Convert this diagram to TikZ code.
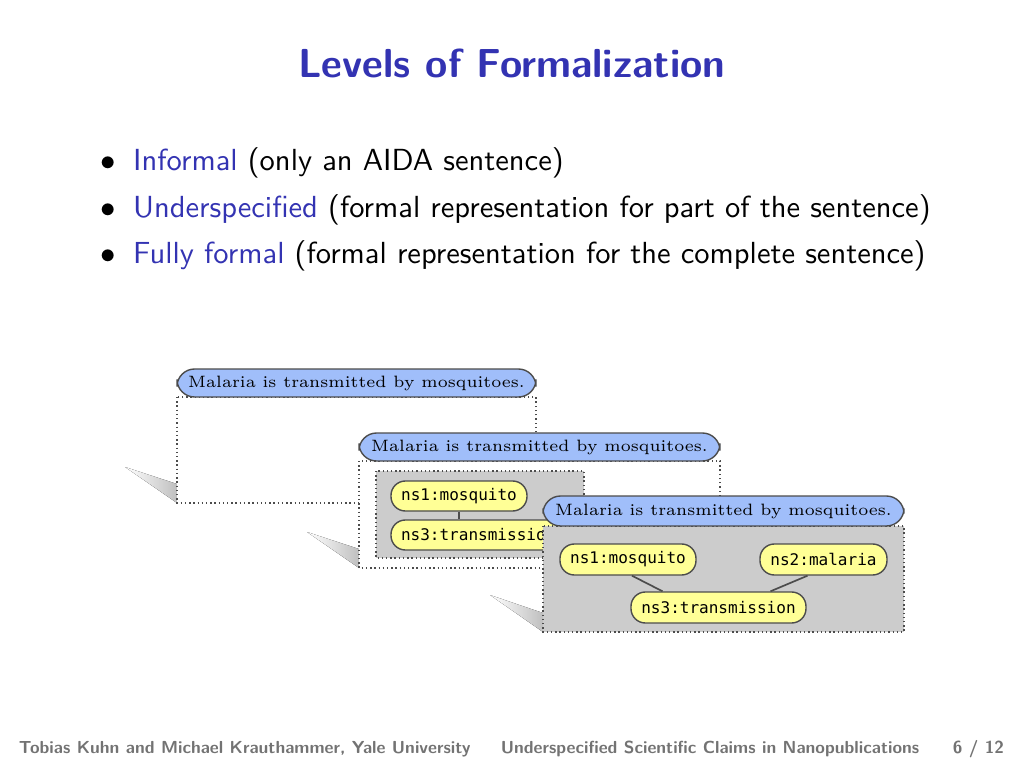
\documentclass[tikz,border=0pt]{standalone}
\usepackage{fontspec}
\setmonofont{DejaVu Sans Mono}
\begin{document}
\begin{tikzpicture}[x=0.125mm,y=-0.125mm,
  ttl/.style={draw=black!70,fill={rgb,255:red,160;green,190;blue,250},rounded corners=2.2mm,line width=0.5pt,inner sep=0pt,font=\fontsize{5.85}{8}\selectfont\rmfamily},
  nd/.style={draw=black!70,fill={rgb,255:red,255;green,255;blue,150},rounded corners=1.8mm,line width=0.5pt,inner sep=0pt,font=\fontsize{5.7}{7}\selectfont\ttfamily},
  frm/.style={draw=black!70,densely dotted,line width=0.5pt},
  lnk/.style={draw=black!70,line width=0.6pt},
  shd/.style={left color=white,right color=black!25,draw=none}]
\useasboundingbox (0,0) rectangle (1024,768);
\definecolor{tblue}{RGB}{51,51,178}
\node[font=\fontsize{14.4}{16}\selectfont\sffamily\bfseries,text=tblue] (title) at (512,63) {Levels of Formalization};
\begin{scope}[font=\fontsize{10.85}{13}\selectfont\sffamily]
\node[anchor=west] (b1) at (91,163) {$\bullet$\hspace{0.55em}\textcolor{tblue}{Informal} (only an AIDA sentence)};
\node[anchor=west] (b2) at (91,210) {$\bullet$\hspace{0.55em}\textcolor{tblue}{Underspecified} (formal representation for part of the sentence)};
\node[anchor=west] (b3) at (91,256) {$\bullet$\hspace{0.55em}\textcolor{tblue}{Fully formal} (formal representation for the complete sentence)};
\end{scope}
% box 1
\fill[shd] (125,467) -- (177,484) -- (177,503) -- cycle;
\draw[frm,fill=white] (177,397) rectangle (536,503);
\node[ttl,minimum width=359*0.125mm,minimum height=28*0.125mm] (t1) at (356.5,383) {Malaria is transmitted by mosquitoes.};
% box 2
\fill[shd] (307,532) -- (359,549) -- (359,568) -- cycle;
\draw[frm,fill=white] (359,461) rectangle (720,568);
\draw[frm,fill=black!20] (376,471) rectangle (584,558);
\node[ttl,minimum width=361*0.125mm,minimum height=28*0.125mm] (t2) at (539.5,447) {Malaria is transmitted by mosquitoes.};
\node[nd,minimum width=136*0.125mm,minimum height=30*0.125mm] (m2) at (459,496) {ns1:mosquito};
\node[nd,minimum width=170*0.125mm,minimum height=30*0.125mm,text width=150*0.125mm,align=left] (r2) at (476,535) {ns3:transmission};
\draw[lnk] (m2) -- (m2|-r2.north);
% box 3
\fill[shd] (490,595) -- (543,613) -- (543,632) -- cycle;
\draw[frm,fill=black!20] (543,526) rectangle (904,632);
\node[ttl,minimum width=361*0.125mm,minimum height=30*0.125mm] (t3) at (723.5,511) {Malaria is transmitted by mosquitoes.};
\node[nd,minimum width=136*0.125mm,minimum height=31*0.125mm] (m3) at (628,559.5) {ns1:mosquito};
\node[nd,minimum width=127*0.125mm,minimum height=31*0.125mm] (a3) at (823.5,559.5) {ns2:malaria};
\node[nd,minimum width=175*0.125mm,minimum height=31*0.125mm] (r3) at (718.5,607.5) {ns3:transmission};
\draw[lnk] ([xshift=0.5mm]m3.south) -- ([xshift=-7mm]r3.north);
\draw[lnk] ([xshift=-2mm]a3.south) -- ([xshift=6.5mm]r3.north);
% footer
\begin{scope}[font=\fontsize{6.2}{8}\selectfont\sffamily\bfseries,text=black!55]
\node[anchor=west] (f1) at (9,749) {Tobias Kuhn and Michael Krauthammer, Yale University};
\node (f2) at (710,749) {Underspecified Scientific Claims in Nanopublications};
\node[anchor=east] (f3) at (1014,749) {6 / 12};
\end{scope}
\end{tikzpicture}
\end{document}
